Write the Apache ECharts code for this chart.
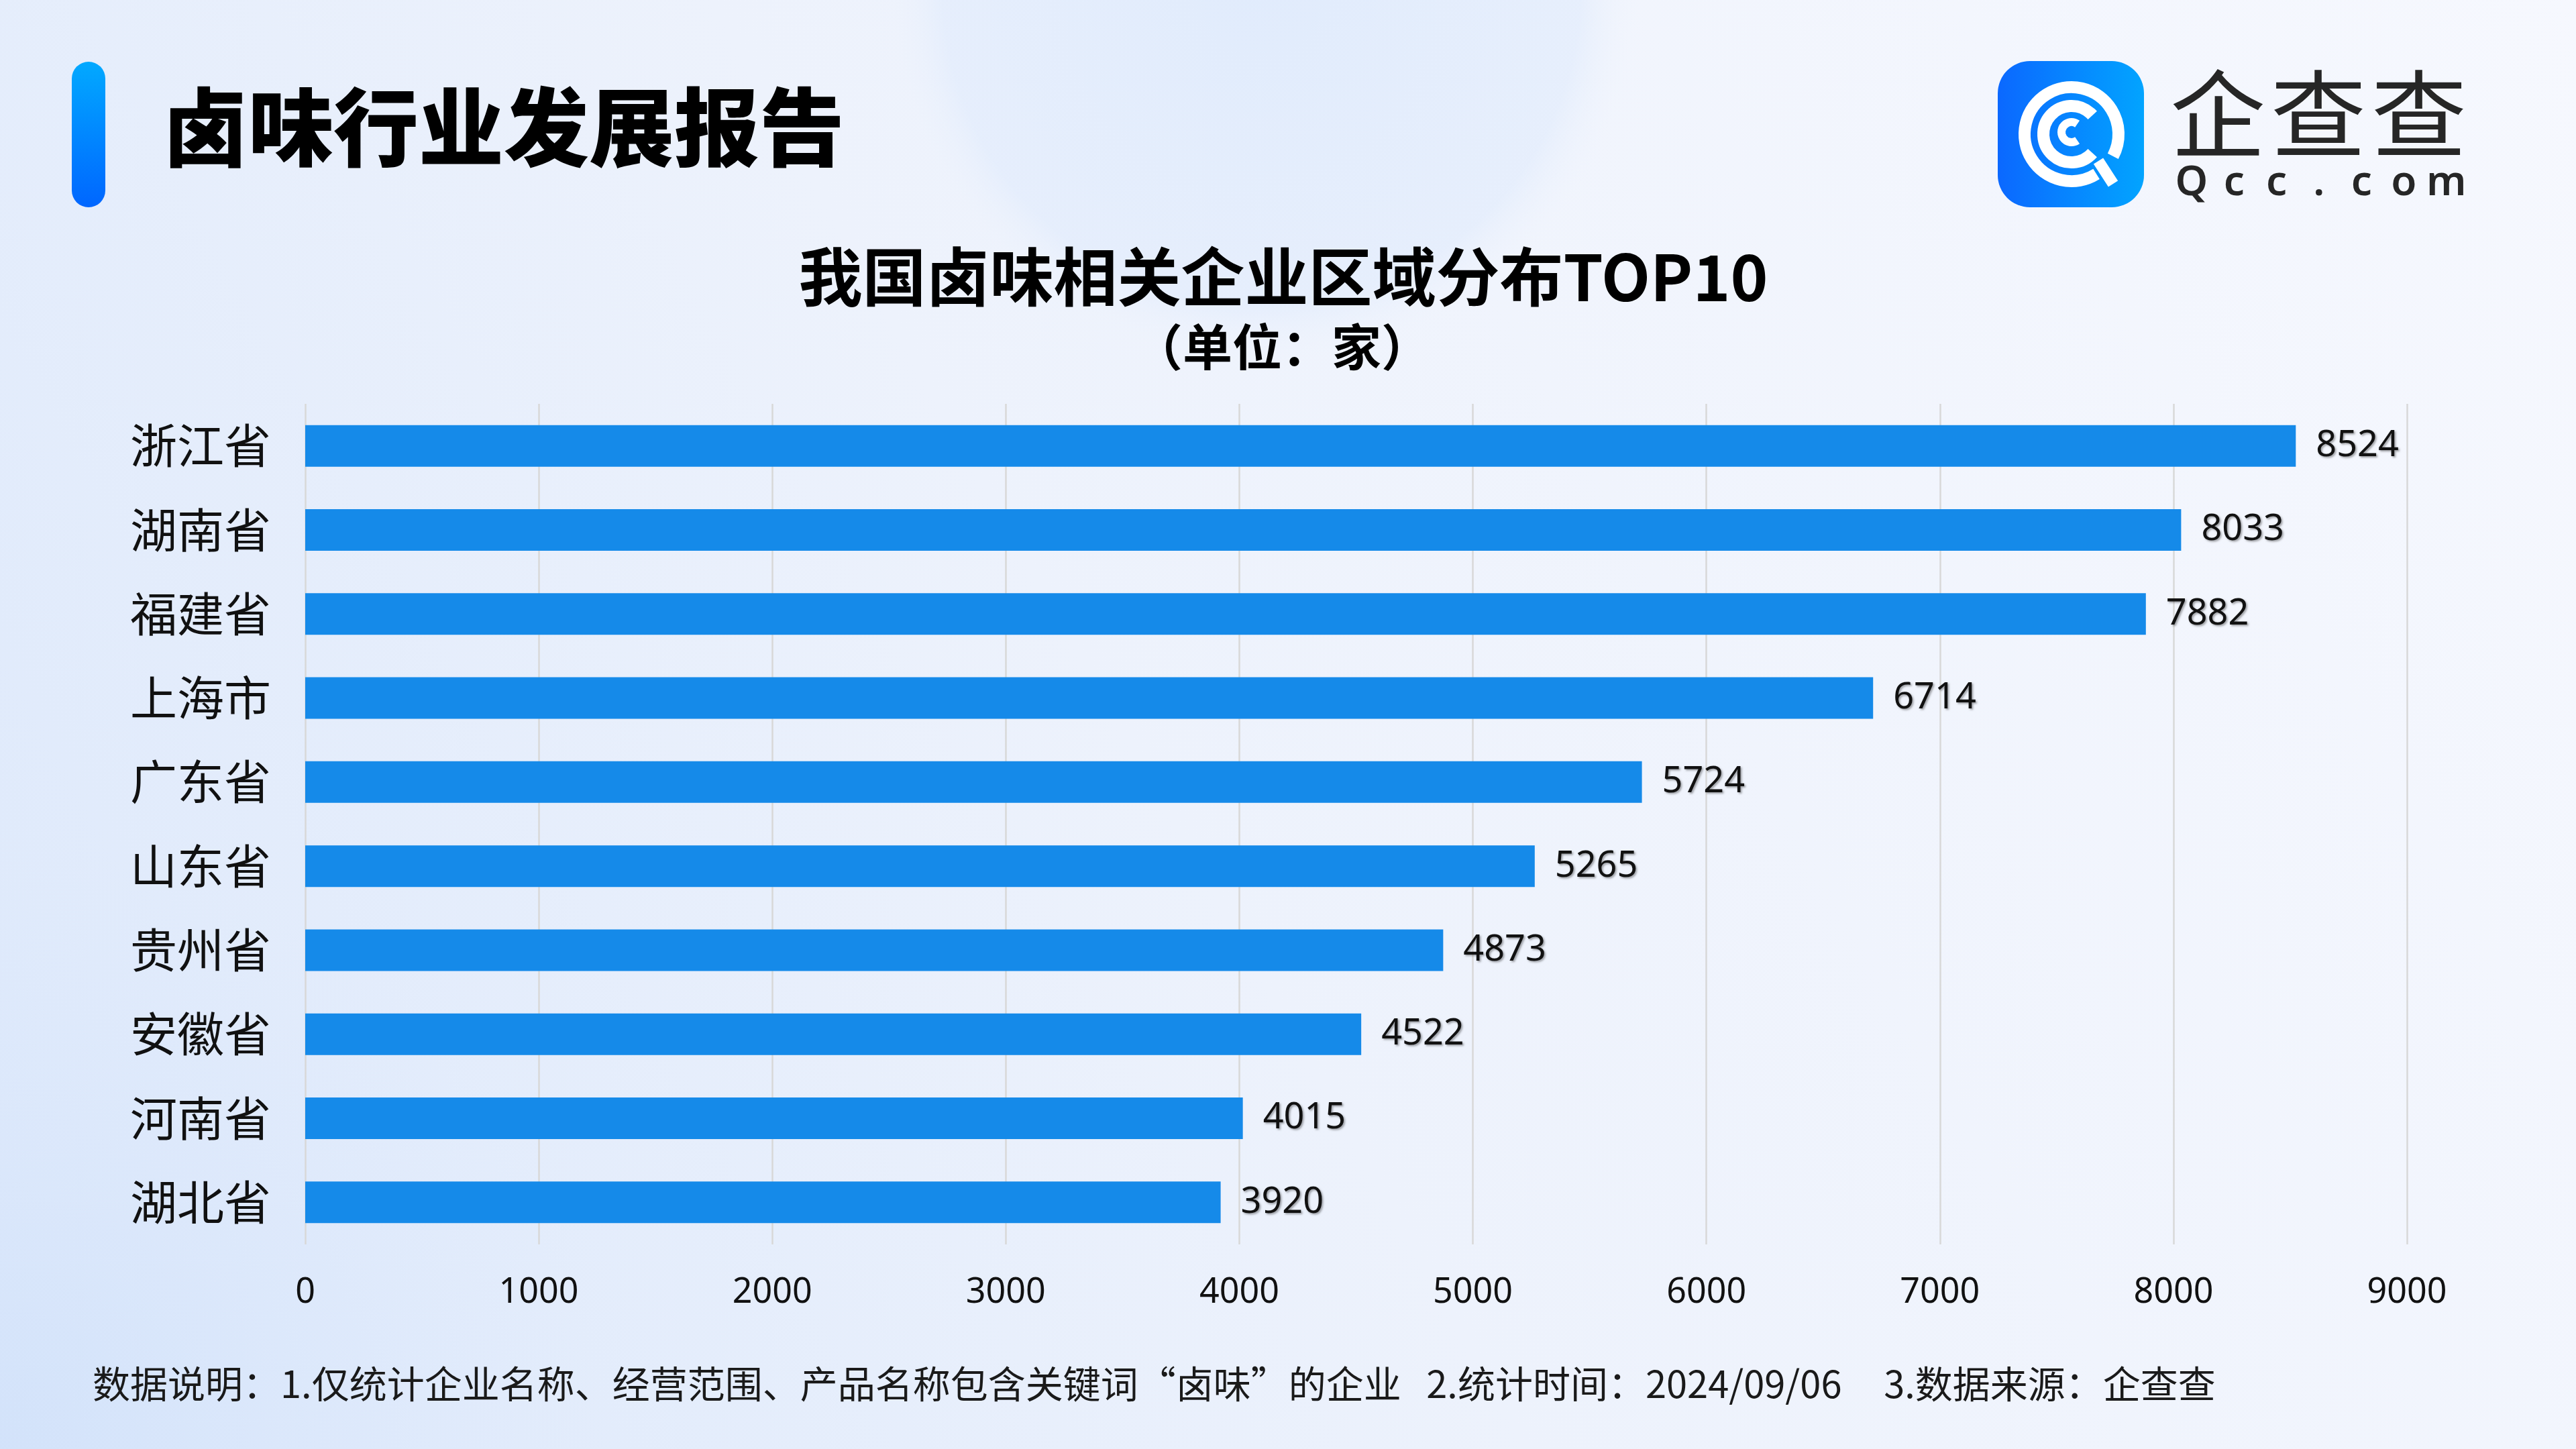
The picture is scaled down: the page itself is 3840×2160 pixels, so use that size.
<!DOCTYPE html>
<html>
<head>
<meta charset="utf-8">
<script src="https://cdn.jsdelivr.net/npm/echarts@6/dist/echarts.min.js"></script>
<style>
html,body{margin:0;padding:0;width:3840px;height:2160px;overflow:hidden;}
#main{width:3840px;height:2160px;}
</style>
</head>
<body>
<div id="main"></div>
<script>
// ---- data ----
const provinces = ['浙江省','湖南省','福建省','上海市','广东省','山东省','贵州省','安徽省','河南省','湖北省'];
const companyCounts = [8524, 8033, 7882, 6714, 5724, 5265, 4873, 4522, 4015, 3920];
const reportTitle = '卤味行业发展报告';
const chartTitle = '我国卤味相关企业区域分布TOP10';
const unitText = '（单位：家）';
const noteText = '数据说明：1.仅统计企业名称、经营范围、产品名称包含关键词“卤味”的企业   2.统计时间：2024/09/06     3.数据来源：企查查';
const logoName = ['企','查','查'];
const logoChars = ['Q','c','c','.','c','o','m'];

const CJK = '"Noto Sans CJK SC","Noto Sans",sans-serif';
const chart = echarts.init(document.getElementById('main'), null, {renderer:'canvas'});
const deg = d => d * Math.PI / 180;

const logoCx = 3088, logoCy = 200;
const graphics = [
  // background blobs
  {type:'circle', z:-10, silent:true, shape:{cx:1880, cy:-20, r:560},
    style:{fill:new echarts.graphic.RadialGradient(0.5,0.5,0.5,[
      {offset:0,color:'rgba(224,235,252,0.95)'},{offset:0.85,color:'rgba(226,236,252,0.7)'},{offset:1,color:'rgba(238,243,252,0)'}])}},
  {type:'circle', z:-10, silent:true, shape:{cx:0, cy:2160, r:900},
    style:{fill:new echarts.graphic.RadialGradient(0.5,0.5,0.5,[
      {offset:0,color:'rgba(208,225,250,0.8)'},{offset:1,color:'rgba(220,232,251,0)'}])}},
  // accent bar
  {type:'rect', shape:{x:107, y:92, width:50, height:217, r:25},
    style:{fill:new echarts.graphic.LinearGradient(0,0,0,1,[{offset:0,color:'#02A9FF'},{offset:1,color:'#0066FF'}])}},
  {type:'text', x:243, y:190, style:{text:reportTitle, font:'900 127px ' + CJK, fill:'#000', textVerticalAlign:'middle'}},
  // logo icon
  {type:'rect', shape:{x:2978, y:91, width:218, height:218, r:48},
    style:{fill:new echarts.graphic.LinearGradient(0,0,1,0,[{offset:0,color:'#0B68FF'},{offset:1,color:'#02A4FF'}])}},
  {type:'arc', shape:{cx:logoCx, cy:logoCy, r:70, startAngle:deg(58), endAngle:deg(388), clockwise:true},
    style:{stroke:'#fff', lineWidth:18, fill:null}},
  {type:'line', shape:{x1:3128, y1:240, x2:3150, y2:274}, style:{stroke:'#fff', lineWidth:17}},
  {type:'arc', shape:{cx:logoCx, cy:logoCy, r:42, startAngle:deg(42), endAngle:deg(318), clockwise:true},
    style:{stroke:'#fff', lineWidth:18, fill:null}},
  {type:'arc', shape:{cx:logoCx, cy:logoCy-3, r:15, startAngle:deg(55), endAngle:deg(305), clockwise:true},
    style:{stroke:'#fff', lineWidth:12, fill:null}},
  // chart titles
  {type:'text', x:1913, y:413, style:{text:chartTitle, font:'bold 95px ' + CJK, fill:'#000', textAlign:'center', textVerticalAlign:'middle'}},
  {type:'text', x:1911, y:517, style:{text:unitText, font:'bold 74px ' + CJK, fill:'#000', textAlign:'center', textVerticalAlign:'middle'}},
  // footnote
  {type:'text', x:138, y:2063, style:{text:noteText, font:'56px ' + CJK, fill:'#1a1a1a', textVerticalAlign:'middle'}}
];
logoName.forEach((c, i) => {
  graphics.push({type:'text', x:3306 + i * 150, y:170, style:{text:c, font:'400 142px ' + CJK, fill:'#262626', textAlign:'center', textVerticalAlign:'middle'}});
});
logoChars.forEach((c, i) => {
  graphics.push({type:'text', x:3267 + i * 63.3, y:273, style:{text:c, font:'600 62px "Noto Sans",sans-serif', fill:'#262626', textAlign:'center', textVerticalAlign:'middle'}});
});

chart.setOption({
  backgroundColor: new echarts.graphic.LinearGradient(0,1,1,0,[
    {offset:0,color:'#DCE8FB'},{offset:0.45,color:'#EDF2FC'},{offset:1,color:'#F6F8FE'}]),
  animation:false,
  grid:{left:455, right:252, top:602, bottom:305, containLabel:false},
  xAxis:{
    type:'value', min:0, max:9000, interval:1000,
    axisLine:{show:false}, axisTick:{show:false},
    splitLine:{show:true, lineStyle:{color:'#D8D8D8', width:2.5}},
    axisLabel:{color:'#111', fontSize:52, fontFamily:'"Noto Sans",sans-serif', margin:46,
      formatter:v => String(v)}
  },
  yAxis:{
    type:'category', data:provinces, inverse:true,
    axisLine:{show:false}, axisTick:{show:false},
    axisLabel:{color:'#111', fontSize:70, fontFamily:CJK, margin:51}
  },
  series:[{
    type:'bar', data:companyCounts, barWidth:62,
    itemStyle:{color:'#158AE9'},
    label:{show:true, position:'right', distance:30, color:'#111', fontSize:54,
      fontFamily:'"Noto Sans",sans-serif',
      textShadowColor:'rgba(0,0,0,0.35)', textShadowBlur:3, textShadowOffsetX:2, textShadowOffsetY:2}
  }],
  graphic:graphics
});
</script>
</body>
</html>
